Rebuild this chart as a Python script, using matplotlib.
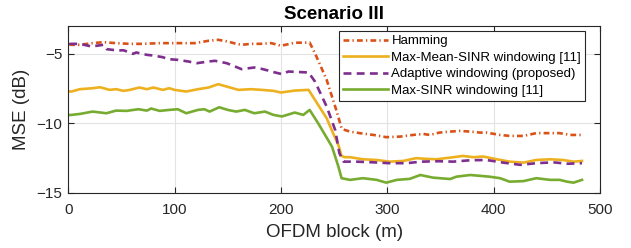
import numpy as np
import matplotlib
matplotlib.use("Agg")
import matplotlib.pyplot as plt

plt.rcParams['font.family'] = ['Liberation Sans', 'DejaVu Sans']

# ==============================
# DATA
# ==============================
ham_x = [1, 3, 11, 23, 33, 45, 58, 70, 86, 95, 106, 119, 132, 141, 150, 158, 163, 172,
         180, 191, 200, 213, 227, 232, 243, 252, 257, 260, 265, 274, 287, 299, 312, 324,
         334, 340, 349, 359, 368, 378, 387, 393, 406, 415, 428, 440, 453, 462, 472, 483]
ham_y = [-4.3, -4.35, -4.35, -4.23, -4.16, -4.23, -4.28, -4.28, -4.23, -4.23, -4.23, -4.23,
         -4.06, -3.99, -4.11, -4.28, -4.35, -4.28, -4.28, -4.23, -4.42, -4.2, -4.19, -4.95,
         -6.87, -9.03, -10.35, -10.47, -10.59, -10.7, -10.83, -10.99, -10.95, -10.83,
         -10.76, -10.83, -10.66, -10.59, -10.54, -10.59, -10.66, -10.66, -10.83, -10.9,
         -10.9, -10.7, -10.7, -10.7, -10.83, -10.83]

mms_x = [1, 3, 11, 23, 30, 39, 45, 52, 58, 67, 74, 80, 89, 95, 100, 111, 122, 132, 141,
         149, 160, 172, 182, 193, 200, 213, 226, 233, 243, 249, 254, 257, 260, 265, 277,
         290, 302, 315, 327, 337, 346, 359, 371, 381, 390, 403, 415, 428, 440, 453, 465,
         475, 483]
mms_y = [-7.7, -7.71, -7.54, -7.47, -7.4, -7.59, -7.54, -7.66, -7.59, -7.42, -7.54, -7.42,
         -7.59, -7.47, -7.59, -7.71, -7.54, -7.42, -7.18, -7.35, -7.59, -7.54, -7.59, -7.66,
         -7.78, -7.64, -7.59, -8.43, -9.63, -10.7, -11.55, -12.34, -12.43, -12.43, -12.58,
         -12.63, -12.75, -12.7, -12.5, -12.55, -12.58, -12.46, -12.34, -12.43, -12.38,
         -12.58, -12.75, -12.82, -12.63, -12.58, -12.63, -12.75, -12.7]

ada_x = [1, 3, 11, 22, 33, 36, 47, 52, 61, 64, 74, 80, 89, 94, 103, 113, 121, 132, 138,
         149, 153, 163, 175, 182, 188, 191, 201, 207, 226, 232, 243, 251, 255, 259, 271,
         287, 302, 318, 332, 348, 362, 378, 393, 409, 425, 440, 456, 470, 483]
ada_y = [-4.3, -4.28, -4.28, -4.47, -4.35, -4.66, -4.76, -4.74, -5.0, -4.9, -5.07, -5.12,
         -5.24, -5.38, -5.43, -5.55, -5.67, -5.55, -5.5, -5.67, -5.79, -6.1, -5.98, -6.08,
         -6.2, -6.27, -6.46, -6.27, -6.34, -6.99, -8.79, -10.47, -12.15, -12.75, -12.75,
         -12.8, -12.86, -12.86, -12.75, -12.72, -12.75, -12.65, -12.63, -12.82, -12.98,
         -12.86, -12.8, -12.9, -12.86]

msinr_x = [1, 3, 11, 23, 36, 45, 55, 66, 74, 78, 86, 95, 103, 111, 122, 128, 133, 142,
           150, 158, 166, 175, 185, 193, 201, 213, 221, 227, 235, 248, 254, 257, 265, 277,
           290, 299, 309, 321, 331, 343, 359, 365, 378, 396, 406, 415, 428, 440, 453, 462,
           469, 475, 483]
msinr_y = [-9.4, -9.39, -9.32, -9.15, -9.27, -9.08, -9.1, -8.98, -9.08, -8.93, -9.1, -9.03,
           -8.98, -9.27, -9.03, -8.98, -9.15, -8.84, -9.03, -9.15, -9.03, -9.27, -9.15,
           -9.39, -9.5, -9.22, -9.39, -9.03, -9.99, -11.67, -13.1, -13.94, -14.06, -13.94,
           -14.06, -14.26, -14.06, -13.99, -13.71, -13.9, -14.0, -13.83, -13.71, -13.83,
           -13.94, -14.19, -14.15, -13.94, -14.06, -14.06, -14.19, -14.26, -14.06]

xticks = [0, 100, 200, 300, 400, 500]
yticks = [-15, -10, -5]

# ==============================
# PLOT
# ==============================
fig = plt.figure(figsize=(6.31, 2.48), dpi=100)
ax = fig.add_axes([0.108, 0.222, 0.843, 0.673])

lw = 1.9
ax.plot(ham_x, ham_y, color='#D95319', lw=lw, ls=(0, (2.2, 1.2, 0.5, 1.2)), label='Hamming')
ax.plot(mms_x, mms_y, color='#EDB120', lw=lw, ls='-', label='Max-Mean-SINR windowing [11]')
ax.plot(ada_x, ada_y, color='#7E2F8E', lw=lw, ls=(0, (3, 2)), label='Adaptive windowing (proposed)')
ax.plot(msinr_x, msinr_y, color='#77AC30', lw=lw, ls='-', label='Max-SINR windowing [11]')

ax.set_xlim(0, 500)
ax.set_ylim(-15, -3)
ax.set_xticks(xticks)
ax.set_yticks(yticks)
ax.grid(True, color='#e3e3e3', lw=0.8)
ax.set_axisbelow(True)
ax.tick_params(direction='in', top=True, right=True, length=4, labelsize=11,
               colors='#262626', width=0.8)
ax.tick_params(axis='x', pad=7)
ax.tick_params(axis='y', pad=4)
for s in ax.spines.values():
    s.set_color('#262626')
    s.set_linewidth(0.8)

ax.set_xlabel('OFDM block (m)', fontsize=13.5, color='#262626', labelpad=5)
ax.set_ylabel('MSE (dB)', fontsize=13.5, color='#262626', labelpad=5)
ax.set_title('Scenario III', fontsize=13.5, fontweight='bold', pad=5)

leg = ax.legend(loc='upper right', bbox_to_anchor=(0.972, 0.97), fontsize=9.5,
                handlelength=3.4, handletextpad=0.25, labelspacing=0.32,
                borderpad=0.3, borderaxespad=0, fancybox=False, framealpha=1)
leg.get_frame().set_edgecolor('#262626')
leg.get_frame().set_linewidth(0.8)

fig.savefig('out.png', dpi=100)
